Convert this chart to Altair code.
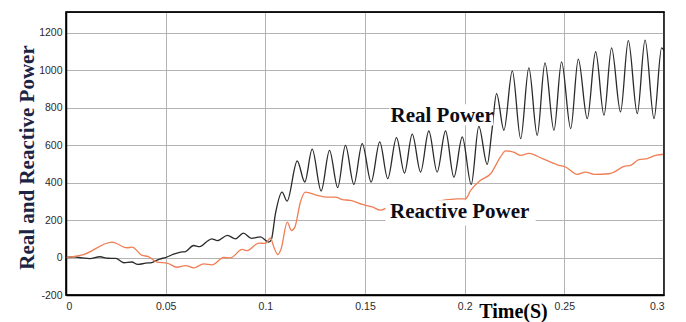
import altair as alt
import pandas as pd

# ---- data ----
real_t = [0, 0.004, 0.008, 0.012, 0.017, 0.021, 0.025, 0.029, 0.033, 0.036,
          0.040, 0.043, 0.047, 0.050, 0.054, 0.057, 0.060, 0.064, 0.067, 0.071,
          0.073, 0.076, 0.081, 0.085, 0.089, 0.093, 0.0975, 0.1017, 0.1030, 0.1051,
          0.1084, 0.1109, 0.1160, 0.1198, 0.1235, 0.1280, 0.1322, 0.1363, 0.1402, 0.1444,
          0.1486, 0.1531, 0.1574, 0.1614, 0.1658, 0.1698, 0.1737, 0.1779, 0.1820, 0.1862,
          0.1904, 0.1946, 0.1988, 0.2033, 0.2071, 0.2113, 0.2136, 0.2160, 0.2197, 0.2239,
          0.2281, 0.2322, 0.2364, 0.2403, 0.2448, 0.2486, 0.2532, 0.2570, 0.2615, 0.2657,
          0.2699, 0.2737, 0.2782, 0.2821, 0.2866, 0.2905, 0.2950, 0.2988, 0.3]
real_p = [0, 3, -2, -6, 4, -4, -5, -28, -24, -37,
          -30, -27, -8, 0, 18, 28, 32, 64, 58, 88,
          100, 90, 118, 100, 130, 102, 110, 82, 95, 235,
          349, 301, 515, 403, 578, 355, 572, 373, 598, 390,
          608, 403, 617, 421, 640, 451, 658, 456, 675, 456,
          675, 429, 643, 390, 700, 497, 670, 875, 679, 996,
          634, 1012, 652, 1039, 679, 1044, 688, 1059, 741, 1098,
          759, 1119, 777, 1157, 768, 1160, 741, 1119, 1105]

react_t = [0, 0.0088, 0.0231, 0.0306, 0.0331, 0.0382, 0.0413, 0.0457, 0.0507, 0.0557,
           0.0599, 0.0641, 0.0691, 0.0733, 0.0791, 0.0825, 0.0884, 0.0909, 0.0967, 0.1000,
           0.1026, 0.1040, 0.1062, 0.1079, 0.1110, 0.1131, 0.1148, 0.1176, 0.1201, 0.1260,
           0.1310, 0.1352, 0.1386, 0.1427, 0.1486, 0.1536, 0.1578, 0.1618, 0.1680, 0.1760,
           0.1860, 0.1963, 0.2004, 0.2030, 0.2080, 0.2130, 0.2180, 0.2205, 0.2245, 0.2281,
           0.2322, 0.2390, 0.2473, 0.2506, 0.2565, 0.2607, 0.2649, 0.2724, 0.2749, 0.2799,
           0.2833, 0.2874, 0.2917, 0.2958, 0.3]
react_q = [0, 16, 82, 52, 55, 11, 5, -25, -30, -52,
           -43, -55, -34, -39, 0, -2, 43, 37, 77, 75,
           105, 64, 16, 46, 189, 144, 162, 296, 349, 332,
           322, 322, 309, 305, 283, 270, 253, 268, 275, 285,
           300, 313, 313, 358, 412, 447, 537, 569, 563, 545,
           556, 528, 492, 483, 444, 456, 444, 447, 456, 486,
           492, 522, 528, 545, 551]

series_names = ["Real Power", "Reactive Power"]
series_colors = ["#2a2a2a", "#f07f56"]

x_ticks = [0, 0.05, 0.1, 0.15, 0.2, 0.25, 0.3]
y_ticks = [-200, 0, 200, 400, 600, 800, 1000, 1200]

ann_text = ["Real Power", "Reactive Power"]
ann_t = [0.1887, 0.1975]
ann_v = [722, 209]
box_t1 = [0.1623, 0.1603]
box_t2 = [0.2143, 0.2356]
box_v1 = [704, 171]
box_v2 = [818, 305]

# ---- tables ----
df = pd.concat([
    pd.DataFrame({"t": real_t, "v": real_p, "series": series_names[0]}),
    pd.DataFrame({"t": react_t, "v": react_q, "series": series_names[1]}),
], ignore_index=True)
ann = pd.DataFrame({"label": ann_text, "t": ann_t, "v": ann_v})
boxes = pd.DataFrame({"t": box_t1, "t2": box_t2, "v": box_v1, "v2": box_v2})

xs = alt.Scale(domain=[0, 0.3], nice=False, zero=False)
ys = alt.Scale(domain=[-200, 1310], nice=False, zero=False)

x_axis = alt.Axis(
    values=x_ticks, labelExpr="datum.value + ''", title="Time(S)",
    titleFont="Liberation Serif", titleFontWeight="bold", titleFontSize=20,
    titleColor="#000000", titleX=447, titleY=22, titleBaseline="alphabetic",
    titleAlign="center", labelPadding=6)
y_axis = alt.Axis(
    values=y_ticks, labelExpr="datum.value + ''", title="Real and Reactive Power",
    titleFont="Liberation Serif", titleFontWeight="bold", titleFontSize=21,
    titleColor="#1b2444", titleX=-33, titleY=145, titleAngle=270,
    titleBaseline="alphabetic", titleAlign="center", labelPadding=4)

lines = alt.Chart(df).mark_line(strokeWidth=1.3, interpolate="monotone").encode(
    x=alt.X("t:Q", scale=xs, axis=x_axis),
    y=alt.Y("v:Q", scale=ys, axis=y_axis),
    color=alt.Color("series:N", scale=alt.Scale(domain=series_names, range=series_colors),
                    legend=None),
)

rects = alt.Chart(boxes).mark_rect(color="white").encode(
    x=alt.X("t:Q", scale=xs, axis=x_axis),
    x2="t2:Q",
    y=alt.Y("v:Q", scale=ys, axis=y_axis),
    y2="v2:Q",
)

texts = alt.Chart(ann).mark_text(
    font="Liberation Serif", fontWeight="bold", fontSize=21, color="#0d0d18",
    baseline="alphabetic", align="center"
).encode(
    x=alt.X("t:Q", scale=xs, axis=x_axis),
    y=alt.Y("v:Q", scale=ys, axis=y_axis),
    text="label:N",
)

frame = alt.Chart(alt.Data(values=[{"f": 1}])).mark_rect(
    filled=False, stroke="#000000", strokeWidth=1.3
).encode(
    x=alt.value(0), x2=alt.value("width"),
    y=alt.value(0), y2=alt.value("height"),
)

chart = alt.layer(lines, rects, texts, frame).properties(
    width=598, height=283,
    background="white",
    autosize=alt.AutoSizeParams(type="none"),
    padding={"left": 66, "top": 12, "right": 22, "bottom": 27},
).configure_view(
    stroke="#000000", strokeWidth=1.3
).configure_axis(
    domain=True, domainColor="#000000", domainWidth=1.5,
    ticks=False, grid=True, gridColor="#b3b3b3", gridWidth=1,
    gridOpacity=1, labelFont="Liberation Sans", labelFontSize=10.5,
    labelColor="#2a2a2a",
)

chart.save("out.html", embed_options={"renderer": "svg", "actions": False})
